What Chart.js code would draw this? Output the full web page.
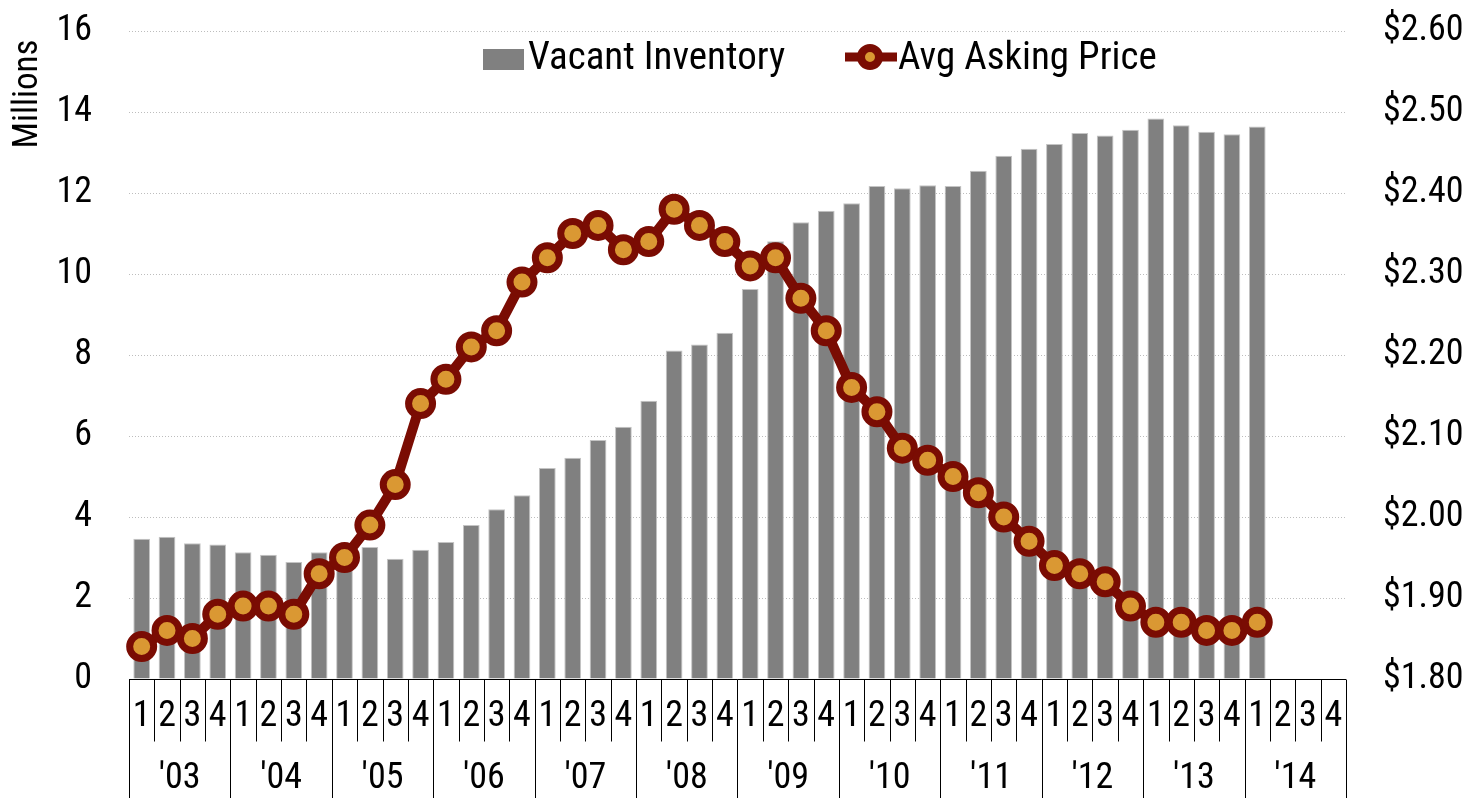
<!DOCTYPE html>
<html>
<head>
<meta charset="utf-8">
<script src="https://cdn.jsdelivr.net/npm/chart.js@4.4.1/dist/chart.umd.min.js"></script>
<style>
  body { margin: 0; background: #fff; }
  #wrap { width: 1470px; height: 798px; }
</style>
</head>
<body>
<div id="wrap"><canvas id="chart" width="1470" height="798"></canvas></div>
<script>
const years = ["'03", "'04", "'05", "'06", "'07", "'08", "'09", "'10", "'11", "'12", "'13", "'14"];
const quarters = ['1', '2', '3', '4'];

// vacant inventory, millions (2003 Q1 .. 2014 Q1)
const vacantInventory = [
    3.46, 3.51, 3.35, 3.32, 3.13, 3.07, 2.89, 3.13, 3.15, 3.26, 2.97, 3.19,
    3.38, 3.80, 4.19, 4.54, 5.21, 5.46, 5.90, 6.23, 6.87, 8.11, 8.26, 8.55,
    9.63, 10.81, 11.28, 11.56, 11.75, 12.17, 12.12, 12.19, 12.17, 12.55, 12.92, 13.09,
    13.21, 13.48, 13.42, 13.56, 13.84, 13.67, 13.51, 13.45, 13.64
];

// average asking price, $ (2003 Q1 .. 2014 Q1)
const avgAskingPrice = [
    1.84, 1.86, 1.85, 1.88, 1.89, 1.89, 1.88, 1.93, 1.95, 1.99, 2.04, 2.14,
    2.17, 2.21, 2.23, 2.29, 2.32, 2.35, 2.36, 2.33, 2.34, 2.38, 2.36, 2.34,
    2.31, 2.32, 2.27, 2.23, 2.16, 2.13, 2.085, 2.07, 2.05, 2.03, 2.00, 1.97,
    1.94, 1.93, 1.92, 1.89, 1.87, 1.87, 1.86, 1.86, 1.87
];

const leftTicks = { min: 0, max: 16, step: 2 };
const rightTicks = { min: 1.8, max: 2.6, step: 0.1 };

const FONT = "'Liberation Sans Narrow', 'Arial Narrow', 'Roboto Condensed', 'DejaVu Sans Condensed', sans-serif";
const DARK_RED = '#7a0c03';
const ORANGE = '#da9833';
const GRAY = '#808080';

const labels = [];
years.forEach(y => quarters.forEach(q => labels.push(y + ' Q' + q)));

// two-row quarter / year table under the plot, plus legend and axis title
const extras = {
    id: 'extras',
    afterDraw(chart) {
        const ctx = chart.ctx;
        const xs = chart.scales.x;
        const top = Math.round(chart.chartArea.bottom) + 0.5;
        const half = (xs.getPixelForValue(1) - xs.getPixelForValue(0)) / 2;
        const H = chart.height;

        ctx.save();
        ctx.strokeStyle = '#000';
        ctx.lineWidth = 1;
        ctx.beginPath();
        ctx.moveTo(xs.left, top);
        ctx.lineTo(xs.right, top);
        ctx.stroke();

        ctx.fillStyle = '#000';
        ctx.textAlign = 'center';
        ctx.textBaseline = 'middle';
        ctx.font = '36px ' + FONT;
        labels.forEach((lab, i) => {
            const cx = xs.getPixelForValue(i);
            const x = Math.round(cx - half) + 0.5;
            ctx.beginPath();
            ctx.moveTo(x, top);
            ctx.lineTo(x, i % 4 === 0 ? H : top + 62);
            ctx.stroke();
            ctx.fillText(quarters[i % 4], cx, top + 37);
        });
        const xr = Math.round(xs.getPixelForValue(labels.length - 1) + half) + 0.5;
        ctx.beginPath();
        ctx.moveTo(xr, top);
        ctx.lineTo(xr, H);
        ctx.stroke();

        years.forEach((y, j) => {
            const cx = (xs.getPixelForValue(j * 4) + xs.getPixelForValue(j * 4 + 3)) / 2;
            ctx.fillText(y, cx, top + 99);
        });

        // axis title
        ctx.save();
        ctx.translate(28, 94);
        ctx.rotate(-Math.PI / 2);
        ctx.font = '35px ' + FONT;
        ctx.fillText('Millions', 0, 0);
        ctx.restore();

        // legend
        ctx.font = '39px ' + FONT;
        ctx.textAlign = 'left';
        ctx.fillStyle = GRAY;
        ctx.fillRect(483, 49, 41, 21);
        ctx.fillStyle = '#000';
        ctx.fillText(chart.data.datasets[0].label, 528, 59);

        ctx.strokeStyle = DARK_RED;
        ctx.lineWidth = 9;
        ctx.beginPath();
        ctx.moveTo(845, 57);
        ctx.lineTo(897, 57);
        ctx.stroke();
        ctx.beginPath();
        ctx.arc(870, 57, 9, 0, Math.PI * 2);
        ctx.fillStyle = ORANGE;
        ctx.fill();
        ctx.lineWidth = 8;
        ctx.stroke();
        ctx.fillStyle = '#000';
        ctx.fillText(chart.data.datasets[1].label, 898, 59);
        ctx.restore();
    }
};

// fixed axis widths; drop the extra top/bottom room the tick padding asks for
function fitSide(width) {
    return s => {
        s.width = width;
        s.paddingTop = 0;
        s.paddingBottom = 0;
    };
}

new Chart(document.getElementById('chart'), {
    data: {
        labels: labels,
        datasets: [
            {
                type: 'bar',
                label: 'Vacant Inventory',
                data: vacantInventory,
                yAxisID: 'y',
                backgroundColor: GRAY,
                borderColor: '#c4c4c4',
                borderWidth: 1,
                barPercentage: 0.66,
                categoryPercentage: 1,
                order: 2
            },
            {
                type: 'line',
                label: 'Avg Asking Price',
                data: avgAskingPrice,
                yAxisID: 'y1',
                borderColor: DARK_RED,
                borderWidth: 10,
                pointRadius: 12,
                pointBorderWidth: 7,
                pointBackgroundColor: ORANGE,
                pointBorderColor: DARK_RED,
                tension: 0,
                order: 1
            }
        ]
    },
    options: {
        responsive: false,
        animation: false,
        layout: { padding: { top: 31, left: 0, right: 0, bottom: 0 } },
        plugins: {
            legend: { display: false },
            tooltip: { enabled: false }
        },
        scales: {
            x: {
                type: 'category',
                offset: true,
                ticks: { display: false },
                grid: { display: false },
                border: { display: false },
                afterFit: s => { s.height = 119; }
            },
            y: {
                position: 'left',
                min: leftTicks.min,
                max: leftTicks.max,
                ticks: {
                    stepSize: leftTicks.step,
                    color: '#000',
                    padding: 37,
                    font: { size: 36, family: FONT }
                },
                grid: { color: '#bdbdbd', drawTicks: false, lineWidth: 1 },
                border: { display: false, dash: [1, 2] },
                afterFit: fitSide(129)
            },
            y1: {
                position: 'right',
                min: rightTicks.min,
                max: rightTicks.max,
                ticks: {
                    stepSize: rightTicks.step,
                    color: '#000',
                    padding: 37,
                    font: { size: 36, family: FONT },
                    callback: v => '$' + Number(v).toFixed(2)
                },
                grid: { display: false, drawTicks: false },
                border: { display: false },
                afterFit: fitSide(124)
            }
        }
    },
    plugins: [extras]
});
</script>
</body>
</html>
